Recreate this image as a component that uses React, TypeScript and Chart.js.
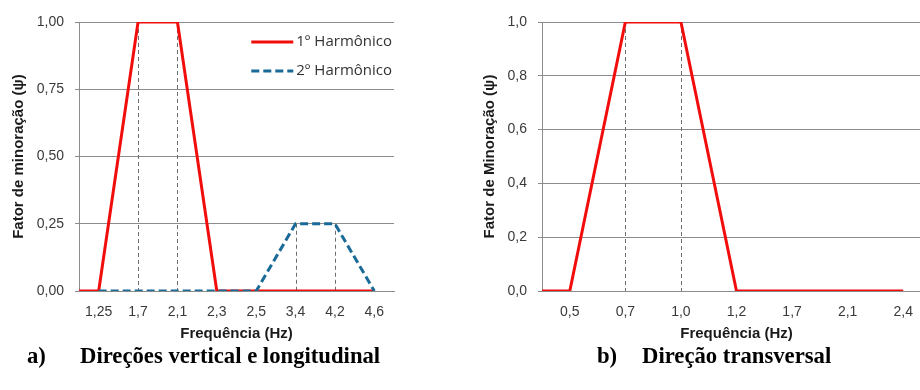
import React, { useEffect, useRef } from 'react';
import { Chart, registerables } from 'chart.js';

Chart.register(...registerables);

// ---- Data: (a) vertical & longitudinal directions ----
const freqLabelsA = ['1,25', '1,7', '2,1', '2,3', '2,5', '3,4', '4,2', '4,6'];
const harmonic1A = [0, 1, 1, 0, 0, 0, 0, 0];
const harmonic2A = [0, 0, 0, 0, 0, 0.25, 0.25, 0];
const harmonic1AStart = 0; // value of 1st harmonic at the axis' left edge
const yTicksA = [0, 0.25, 0.5, 0.75, 1];

// ---- Data: (b) transversal direction ----
const freqLabelsB = ['0,5', '0,7', '1,0', '1,2', '1,7', '2,1', '2,4'];
const harmonic1B = [0, 1, 1, 0, 0, 0, 0];
const harmonic1BStart = 0;
const yTicksB = [0, 0.2, 0.4, 0.6, 0.8, 1];

const RED = '#f20d0d';
const BLUE = '#1a6a98';
const GRID = '#8c8c8c';
const TICK_COLOR = '#3a3a3a';

function toPoints(values: number[], start: number | null) {
  const pts = values.map((v, i) => ({ x: i, y: v }));
  if (start !== null) pts.unshift({ x: -0.5, y: start });
  return pts;
}

const dropLines = {
  id: 'dropLines',
  beforeDatasetsDraw(chart: any) {
    const { ctx } = chart;
    const y0 = chart.scales.y.getPixelForValue(0);
    ctx.save();
    ctx.strokeStyle = '#6e6e6e';
    ctx.lineWidth = 1;
    ctx.setLineDash([4, 3]);
    chart.data.datasets.forEach((ds: any, di: number) => {
      const meta = chart.getDatasetMeta(di);
      meta.data.forEach((pt: any, i: number) => {
        const v = ds.data[i].y;
        if (v > 0) {
          const x = Math.round(pt.x) + 0.5;
          ctx.beginPath();
          ctx.moveTo(x, pt.y);
          ctx.lineTo(x, y0);
          ctx.stroke();
        }
      });
    });
    ctx.restore();
  },
};

const innerLegend = {
  id: 'innerLegend',
  afterDatasetsDraw(chart: any, _args: any, opts: any) {
    if (!opts || !opts.display) return;
    const { ctx, chartArea } = chart;
    ctx.save();
    ctx.font = '15px "Open Sans", sans-serif';
    ctx.textBaseline = 'middle';
    ctx.textAlign = 'left';
    const rows = chart.data.datasets.filter((d: any) => d.label);
    rows.forEach((ds: any, i: number) => {
      const y = chartArea.top + 20 + i * 29;
      const textW = ctx.measureText(ds.label).width;
      const textX = chartArea.right - 2 - textW;
      const x1 = textX - 3;
      const x0 = x1 - 42;
      ctx.strokeStyle = ds.borderColor;
      ctx.lineWidth = 3;
      ctx.setLineDash(ds.borderDash || []);
      ctx.beginPath();
      ctx.moveTo(x0, y);
      ctx.lineTo(x1, y);
      ctx.stroke();
      ctx.setLineDash([]);
      ctx.fillStyle = '#333333';
      ctx.fillText(ds.label, textX, y);
    });
    ctx.restore();
  },
};

function makeConfig(opts: {
  labels: string[];
  datasets: any[];
  yTicks: number[];
  yDecimals: number;
  yTitle: string;
  yAxisWidth: number;
  yTitlePad: number;
  padRight: number;
  legend: boolean;
}) {
  const { labels, datasets, yTicks, yDecimals, yTitle, yAxisWidth, yTitlePad, padRight, legend } = opts;
  return {
    type: 'line',
    data: { datasets },
    options: {
      animation: false,
      responsive: false,
      maintainAspectRatio: false,
      events: [],
      layout: { padding: { left: 0, top: 22, right: padRight, bottom: 0 } },
      plugins: {
        legend: { display: false },
        tooltip: { enabled: false },
        innerLegend: { display: legend },
      },
      elements: {
        point: { radius: 0 },
        line: { tension: 0, borderJoinStyle: 'miter', borderCapStyle: 'butt' },
      },
      scales: {
        x: {
          type: 'linear',
          min: -0.5,
          max: labels.length - 0.5,
          afterBuildTicks: (scale: any) => {
            scale.ticks = labels.map((_, i) => ({ value: i }));
          },
          afterFit: (scale: any) => {
            scale.height = 54;
          },
          ticks: {
            autoSkip: false,
            maxRotation: 0,
            padding: 5,
            color: TICK_COLOR,
            font: { family: '"Liberation Sans", Arial, sans-serif', size: 14 },
            callback: (v: number) => labels[Math.round(v)] ?? '',
          },
          grid: { display: false },
          border: { display: true, color: GRID, width: 1 },
          title: {
            display: true,
            text: 'Frequência (Hz)',
            color: '#1a1a1a',
            font: { family: '"Liberation Sans", Arial, sans-serif', size: 15, weight: 'bold' },
            padding: { top: 0, bottom: 2 },
          },
        },
        y: {
          min: 0,
          max: 1,
          afterBuildTicks: (scale: any) => {
            scale.ticks = yTicks.map((v) => ({ value: v }));
          },
          afterFit: (scale: any) => {
            scale.width = yAxisWidth;
          },
          ticks: {
            padding: 11,
            color: TICK_COLOR,
            font: { family: '"Liberation Sans", Arial, sans-serif', size: 14 },
            callback: (v: number) => v.toFixed(yDecimals).replace('.', ','),
          },
          grid: { color: GRID, lineWidth: 1, drawTicks: true, tickLength: 4 },
          border: { display: true, color: GRID, width: 1 },
          title: {
            display: true,
            text: yTitle,
            color: '#1a1a1a',
            font: { family: '"Liberation Sans", Arial, sans-serif', size: 15, weight: 'bold' },
            padding: { top: yTitlePad, bottom: 0 },
          },
        },
      },
    },
    plugins: [dropLines, innerLegend],
  } as any;
}

function ChartCanvas({ config, width, height, left }: { config: any; width: number; height: number; left: number }) {
  const ref = useRef<HTMLCanvasElement | null>(null);
  useEffect(() => {
    if (!ref.current) return;
    const chart = new Chart(ref.current, config);
    return () => chart.destroy();
  }, [config]);
  return (
    <canvas
      ref={ref}
      width={width}
      height={height}
      style={{ position: 'absolute', left, top: 0, width, height }}
    />
  );
}

const configA = makeConfig({
  labels: freqLabelsA,
  datasets: [
    {
      label: '1º Harmônico',
      data: toPoints(harmonic1A, harmonic1AStart),
      borderColor: RED,
      borderWidth: 3,
      order: 1,
    },
    {
      label: '2º Harmônico',
      data: toPoints(harmonic2A, null),
      borderColor: BLUE,
      borderWidth: 3,
      borderDash: [8, 4],
      order: 0,
    },
  ],
  yTicks: yTicksA,
  yDecimals: 2,
  yTitle: 'Fator de minoração (ψ)',
  yAxisWidth: 79,
  yTitlePad: 10,
  padRight: 66,
  legend: true,
});

const configB = makeConfig({
  labels: freqLabelsB,
  datasets: [
    {
      label: '',
      data: toPoints(harmonic1B, harmonic1BStart),
      borderColor: RED,
      borderWidth: 3,
    },
  ],
  yTicks: yTicksB,
  yDecimals: 1,
  yTitle: 'Fator de Minoração (ψ)',
  yAxisWidth: 82,
  yTitlePad: 21,
  padRight: 9,
  legend: false,
});

const captionStyle: React.CSSProperties = {
  position: 'absolute',
  top: 345,
  fontFamily: '"Liberation Serif", "Times New Roman", serif',
  fontWeight: 'bold',
  fontSize: 22.7,
  lineHeight: '22px',
  color: '#000',
  whiteSpace: 'nowrap',
};

export default function App() {
  return (
    <div
      style={{
        position: 'absolute',
        left: 0,
        top: 0,
        width: 920,
        height: 390,
        overflow: 'hidden',
        background: '#fff',
      }}
    >
      <ChartCanvas config={configA} width={460} height={345} left={0} />
      <ChartCanvas config={configB} width={480} height={345} left={460} />
      <div style={{ ...captionStyle, left: 27 }}>a)</div>
      <div style={{ ...captionStyle, left: 80 }}>Direções vertical e longitudinal</div>
      <div style={{ ...captionStyle, left: 597 }}>b)</div>
      <div style={{ ...captionStyle, left: 642 }}>Direção transversal</div>
    </div>
  );
}
